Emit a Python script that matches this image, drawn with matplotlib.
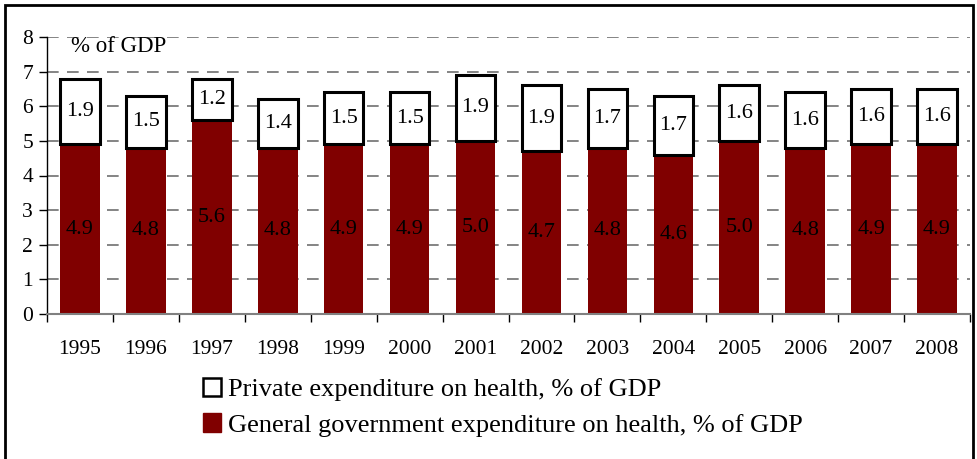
import matplotlib
matplotlib.use("Agg")
import matplotlib.pyplot as plt
from matplotlib.patches import Rectangle, Patch

years = ["1995", "1996", "1997", "1998", "1999", "2000", "2001", "2002",
         "2003", "2004", "2005", "2006", "2007", "2008"]
government = [4.9, 4.8, 5.6, 4.8, 4.9, 4.9, 5.0, 4.7, 4.8, 4.6, 5.0, 4.8, 4.9, 4.9]
private = [1.9, 1.5, 1.2, 1.4, 1.5, 1.5, 1.9, 1.9, 1.7, 1.7, 1.6, 1.6, 1.6, 1.6]

plt.rcParams['font.family'] = ['Liberation Serif', 'DejaVu Serif']

fig = plt.figure(figsize=(9.77, 4.59), dpi=100)
ax = fig.add_axes([47/977, 1 - 314/459, (970 - 47)/977, (314 - 37)/459])

x = list(range(len(years)))
maroon = "#800000"
w = 0.6
ax.bar(x, government, width=w, color=maroon, zorder=3)
ax.bar(x, private, width=w, bottom=government, color="white",
       edgecolor="black", linewidth=2.2, zorder=3)

for i in x:
    g, p = government[i], private[i]
    ax.text(i, g / 2, f"{g:.1f}", ha="center", va="center",
            fontsize=16, color="black", zorder=4)
    ax.text(i, g + p / 2, f"{p:.1f}", ha="center", va="center",
            fontsize=16, color="black", zorder=4)

ax.set_xlim(-0.5, len(years) - 0.5)
ax.set_ylim(0, 8)
ax.set_yticks(range(0, 9))
ax.tick_params(axis="y", labelsize=15.5, length=6, width=1, direction="out", pad=4)
for yv in range(1, 9):
    ax.axhline(yv, color="#707070", linestyle=(0, (7, 5)), linewidth=1.2, zorder=1)

ax.set_xticks(x)
ax.set_xticklabels(years)
ax.set_xticks([i + 0.5 for i in range(-1, len(years))], minor=True)
ax.tick_params(axis="x", which="major", length=0, labelsize=15.5, pad=19)
ax.tick_params(axis="x", which="minor", length=6, width=1, direction="out", color="black")

for s in ["top", "right"]:
    ax.spines[s].set_visible(False)
ax.spines["left"].set_color("black")
ax.spines["left"].set_linewidth(1)
ax.spines["bottom"].set_color("#808080")
ax.spines["bottom"].set_linewidth(1.5)
ax.spines["bottom"].set_zorder(5)

ax.text(-0.14, 7.72, "% of GDP", ha="left", va="center", fontsize=16.5)

handles = [Patch(facecolor="white", edgecolor="black", linewidth=1.8),
           Patch(facecolor=maroon, edgecolor=maroon)]
labels = ["Private expenditure on health, % of GDP",
          "General government expenditure on health, % of GDP"]
fig.legend(handles, labels, loc="upper left",
           bbox_to_anchor=(203/977, 1 - 378/459), frameon=False,
           fontsize=19, handlelength=0.7, handleheight=0.7,
           handletextpad=0.25, labelspacing=0.45, borderaxespad=0, borderpad=0)

fig.patches.append(Rectangle((5/977, -0.05), 968/977, 1 - 5/459 + 0.05,
                             transform=fig.transFigure, fill=False,
                             edgecolor="black", linewidth=2))

fig.savefig("out.png", dpi=100)
